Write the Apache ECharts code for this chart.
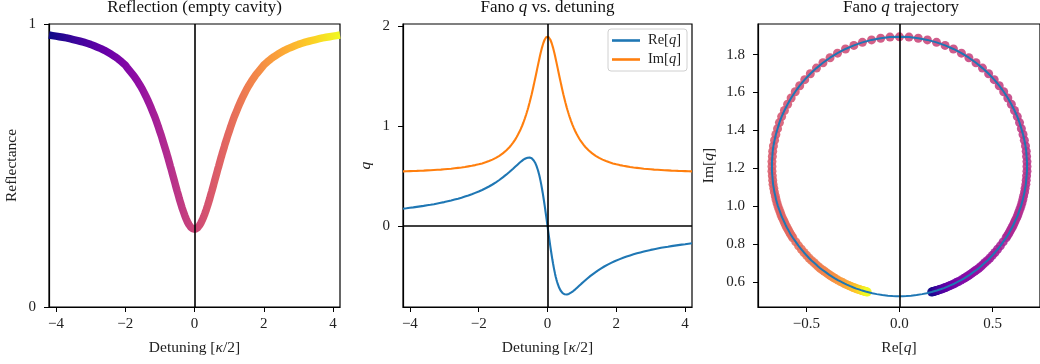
<!DOCTYPE html>
<html>
<head>
<meta charset="utf-8">
<script src="https://cdn.jsdelivr.net/npm/echarts@6/dist/echarts.min.js"></script>
<style>
  html, body { margin: 0; padding: 0; background: #fff; }
  #chart { width: 1040px; height: 364px; }
</style>
</head>
<body>
<div id="chart"></div>
<script>
// Detuning grid in units of kappa/2 (finer near resonance)
const detuning = [
  -4.2,-4.1,-4.0,-3.9,-3.8,-3.7,-3.6,-3.5,-3.4,-3.3,-3.2,-3.1,-3.0,-2.9,-2.8,-2.7,-2.6,-2.5,-2.4,-2.3,-2.2,-2.1,
  -2.0,-1.95,-1.9,-1.85,-1.8,-1.75,-1.7,-1.65,-1.6,-1.55,-1.5,-1.45,-1.4,-1.35,-1.3,-1.25,-1.2,-1.15,-1.1,-1.05,
  -1.0,-0.98,-0.96,-0.94,-0.92,-0.9,-0.88,-0.86,-0.84,-0.82,-0.8,-0.78,-0.76,-0.74,-0.72,-0.7,-0.68,-0.66,-0.64,-0.62,
  -0.6,-0.58,-0.56,-0.54,-0.52,-0.5,-0.48,-0.46,-0.44,-0.42,-0.4,-0.38,-0.36,-0.34,-0.32,-0.3,-0.28,-0.26,-0.24,-0.22,
  -0.2,-0.18,-0.16,-0.14,-0.12,-0.1,-0.08,-0.06,-0.04,-0.02,
  0,
  0.02,0.04,0.06,0.08,0.1,0.12,0.14,0.16,0.18,0.2,0.22,0.24,0.26,0.28,0.3,0.32,0.34,0.36,0.38,0.4,
  0.42,0.44,0.46,0.48,0.5,0.52,0.54,0.56,0.58,0.6,0.62,0.64,0.66,0.68,0.7,0.72,0.74,0.76,0.78,0.8,
  0.82,0.84,0.86,0.88,0.9,0.92,0.94,0.96,0.98,1.0,
  1.05,1.1,1.15,1.2,1.25,1.3,1.35,1.4,1.45,1.5,1.55,1.6,1.65,1.7,1.75,1.8,1.85,1.9,1.95,2.0,
  2.1,2.2,2.3,2.4,2.5,2.6,2.7,2.8,2.9,3.0,3.1,3.2,3.3,3.4,3.5,3.6,3.7,3.8,3.9,4.0,4.1,4.2
];

// Empty-cavity reflectance
const reflectance = [
  0.961,0.959,0.957,0.955,0.953,0.951,0.948,0.945,0.942,0.939,0.936,0.932,0.928,0.923,0.918,0.913,0.907,0.900,0.893,0.885,0.876,0.866,
  0.855,0.847,0.840,0.832,0.825,0.817,0.808,0.799,0.789,0.779,0.768,0.756,0.744,0.731,0.717,0.703,0.688,0.673,0.656,0.639,
  0.620,0.613,0.606,0.598,0.590,0.582,0.575,0.566,0.558,0.550,0.542,0.533,0.525,0.516,0.507,0.498,0.490,0.481,0.472,0.463,
  0.454,0.445,0.436,0.427,0.418,0.409,0.401,0.392,0.383,0.375,0.367,0.359,0.351,0.344,0.337,0.330,0.323,0.317,0.311,0.306,
  0.300,0.296,0.291,0.288,0.284,0.281,0.279,0.277,0.276,0.275,
  0.275,
  0.275,0.276,0.277,0.279,0.281,0.284,0.288,0.291,0.296,0.300,0.306,0.311,0.317,0.323,0.330,0.337,0.344,0.351,0.359,0.367,
  0.375,0.383,0.392,0.401,0.409,0.418,0.427,0.436,0.445,0.454,0.463,0.472,0.481,0.490,0.498,0.507,0.516,0.525,0.533,0.542,
  0.550,0.558,0.566,0.575,0.582,0.590,0.598,0.606,0.613,0.620,
  0.639,0.656,0.673,0.688,0.703,0.717,0.731,0.744,0.756,0.768,0.779,0.789,0.799,0.808,0.817,0.825,0.832,0.840,0.847,0.855,
  0.866,0.876,0.885,0.893,0.900,0.907,0.913,0.918,0.923,0.928,0.932,0.936,0.939,0.942,0.945,0.948,0.951,0.953,0.955,0.957,0.959,0.961
];

// Real part of the Fano parameter q
const qRe = [
  0.173,0.177,0.182,0.186,0.191,0.196,0.201,0.207,0.212,0.218,0.225,0.232,0.239,0.247,0.255,0.264,0.273,0.283,0.294,0.305,0.317,0.331,
  0.345,0.353,0.360,0.369,0.377,0.386,0.395,0.405,0.415,0.426,0.437,0.448,0.460,0.473,0.486,0.499,0.513,0.527,0.542,0.557,
  0.573,0.579,0.586,0.592,0.598,0.605,0.611,0.617,0.623,0.630,0.636,0.641,0.647,0.653,0.658,0.663,0.667,0.672,0.675,0.679,
  0.681,0.683,0.685,0.685,0.685,0.683,0.681,0.677,0.671,0.664,0.655,0.645,0.633,0.618,0.601,0.582,0.560,0.536,0.509,0.479,
  0.446,0.411,0.373,0.333,0.290,0.245,0.199,0.150,0.101,0.051,
  0,
  -0.051,-0.101,-0.150,-0.199,-0.245,-0.290,-0.333,-0.373,-0.411,-0.446,-0.479,-0.509,-0.536,-0.560,-0.582,-0.601,-0.618,-0.633,-0.645,-0.655,
  -0.664,-0.671,-0.677,-0.681,-0.683,-0.685,-0.685,-0.685,-0.683,-0.681,-0.679,-0.675,-0.672,-0.667,-0.663,-0.658,-0.653,-0.647,-0.641,-0.636,
  -0.630,-0.623,-0.617,-0.611,-0.605,-0.598,-0.592,-0.586,-0.579,-0.573,
  -0.557,-0.542,-0.527,-0.513,-0.499,-0.486,-0.473,-0.460,-0.448,-0.437,-0.426,-0.415,-0.405,-0.395,-0.386,-0.377,-0.369,-0.360,-0.353,-0.345,
  -0.331,-0.317,-0.305,-0.294,-0.283,-0.273,-0.264,-0.255,-0.247,-0.239,-0.232,-0.225,-0.218,-0.212,-0.207,-0.201,-0.196,-0.191,-0.186,-0.182,-0.177,-0.173
];

// Imaginary part of the Fano parameter q
const qIm = [
  0.546,0.547,0.549,0.550,0.551,0.553,0.554,0.556,0.558,0.560,0.562,0.564,0.567,0.570,0.573,0.577,0.581,0.585,0.590,0.596,0.602,0.609,
  0.617,0.622,0.626,0.632,0.637,0.643,0.650,0.657,0.664,0.672,0.681,0.691,0.702,0.713,0.726,0.740,0.755,0.772,0.790,0.811,
  0.833,0.843,0.853,0.864,0.875,0.887,0.899,0.912,0.925,0.939,0.953,0.968,0.984,1.000,1.017,1.035,1.054,1.074,1.094,1.115,
  1.137,1.160,1.184,1.209,1.235,1.262,1.290,1.318,1.348,1.378,1.409,1.441,1.473,1.505,1.538,1.571,1.604,1.636,1.668,1.699,
  1.729,1.757,1.784,1.808,1.830,1.849,1.865,1.878,1.887,1.893,
  1.894,
  1.893,1.887,1.878,1.865,1.849,1.830,1.808,1.784,1.757,1.729,1.699,1.668,1.636,1.604,1.571,1.538,1.505,1.473,1.441,1.409,
  1.378,1.348,1.318,1.290,1.262,1.235,1.209,1.184,1.160,1.137,1.115,1.094,1.074,1.054,1.035,1.017,1.000,0.984,0.968,0.953,
  0.939,0.925,0.912,0.899,0.887,0.875,0.864,0.853,0.843,0.833,
  0.811,0.790,0.772,0.755,0.740,0.726,0.713,0.702,0.691,0.681,0.672,0.664,0.657,0.650,0.643,0.637,0.632,0.626,0.622,0.617,
  0.609,0.602,0.596,0.590,0.585,0.581,0.577,0.573,0.570,0.567,0.564,0.562,0.560,0.558,0.556,0.554,0.553,0.551,0.550,0.549,0.547,0.546
];

// Far-detuned part of the trajectory (closes the circle below the sampled window)
const tailDetuning = [-1000, -100, -40, -20, -12, -8, -6, -5, 5, 6, 8, 12, 20, 40, 100, 1000];
const tailRe = [0.001, 0.007, 0.018, 0.037, 0.062, 0.092, 0.122, 0.146, -0.146, -0.122, -0.092, -0.062, -0.037, -0.018, -0.007, -0.001];
const tailIm = [0.524, 0.524, 0.524, 0.525, 0.527, 0.530, 0.535, 0.540, 0.540, 0.535, 0.530, 0.527, 0.525, 0.524, 0.524, 0.524];

// Tick positions
const detTicks = [-4, -2, 0, 2, 4];
const reflTicks = [0, 1];
const qTicks = [0, 1, 2];
const reTicks = [-0.5, 0, 0.5];
const imTicks = [0.6, 0.8, 1.0, 1.2, 1.4, 1.6, 1.8];

const plasma = ['#0d0887', '#41049d', '#6a00a8', '#8f0da4', '#b12a90', '#cc4778',
                '#e16462', '#f2844b', '#fca636', '#fcce25', '#f0f921'];

const FONT = 'Liberation Serif';
const TXT = '#222';
const TICK_SIZE = 15;
const NAME_SIZE = 15.5;
const italic = size => ({ i: { fontStyle: 'italic', fontFamily: FONT, fontSize: size, color: TXT } });

const minus = s => s.replace('-', '\u2212');
const fmtInt = v => minus(String(v));
const fmtOne = v => minus(v.toFixed(1));

function axis(gridIndex, min, max, ticks, fmt, name, nameGap, labelMargin) {
  return {
    type: 'value', gridIndex, min, max,
    axisLine: { show: true, onZero: false, lineStyle: { color: '#000', width: 1.2 } },
    axisTick: { show: true, length: 5, customValues: ticks, lineStyle: { color: '#000', width: 1 } },
    axisLabel: { customValues: ticks, formatter: fmt, fontFamily: FONT, fontSize: TICK_SIZE, color: TXT, margin: labelMargin },
    splitLine: { show: false },
    name, nameLocation: 'middle', nameGap,
    nameTextStyle: { fontFamily: FONT, fontSize: NAME_SIZE, color: TXT, rich: italic(NAME_SIZE) }
  };
}

const zeroLine = (data) => ({
  silent: true, symbol: ['none', 'none'], animation: false,
  label: { show: false },
  lineStyle: { color: '#000', width: 1.6, type: 'solid' },
  emphasis: { disabled: true },
  data
});

const reflData = detuning.map((x, i) => [x, reflectance[i]]);
const reData = detuning.map((x, i) => [x, qRe[i]]);
const imData = detuning.map((x, i) => [x, qIm[i]]);
const trajPoints = detuning.map((x, i) => [qRe[i], qIm[i], x]);
const tailPts = tailDetuning.map((x, i) => [tailRe[i], tailIm[i], x]);
const trajLine = tailPts.filter(p => p[2] < 0).concat(trajPoints, tailPts.filter(p => p[2] > 0))
                        .map(p => [p[0], p[1]]);

const grids = [
  { left: 49, top: 24, width: 291, height: 283 },
  { left: 403, top: 24, width: 289, height: 283 },
  { left: 758, top: 24, width: 286, height: 283 }
].map(g => Object.assign(g, { show: true, borderColor: '#000', borderWidth: 1.2, backgroundColor: 'transparent' }));

const titleText = (x, text) => ({
  type: 'text', x, y: 8, silent: true,
  style: {
    text, align: 'center', verticalAlign: 'middle',
    fontFamily: FONT, fontSize: 17, fill: '#111',
    rich: { i: { fontStyle: 'italic', fontFamily: FONT, fontSize: 17, fill: '#111' } }
  }
});

const option = {
  animation: false,
  backgroundColor: '#fff',
  grid: grids,
  graphic: [
    titleText(194.5, 'Reflection (empty cavity)'),
    titleText(547.5, 'Fano {i|q} vs. detuning'),
    titleText(901, 'Fano {i|q} trajectory')
  ],
  xAxis: [
    axis(0, -4.2, 4.2, detTicks, fmtInt, 'Detuning [{i|\u03ba}/2]', 33, 10),
    axis(1, -4.2, 4.2, detTicks, fmtInt, 'Detuning [{i|\u03ba}/2]', 33, 10),
    axis(2, -0.76, 0.755, reTicks, fmtOne, 'Re[{i|q}]', 33, 10)
  ],
  yAxis: [
    axis(0, 0, 1, reflTicks, fmtInt, 'Reflectance', 29, 13),
    axis(1, -0.81, 2.02, qTicks, fmtInt, '{i|q}', 29, 13),
    axis(2, 0.467, 1.962, imTicks, fmtOne, 'Im[{i|q}]', 41, 13)
  ],
  legend: {
    data: ['Re[q]', 'Im[q]'],
    orient: 'vertical', left: 608, top: 29,
    icon: 'rect', itemWidth: 28, itemHeight: 2.6, itemGap: 4,
    padding: [4, 6, 4, 4],
    borderColor: '#d0d0d0', borderWidth: 1, borderRadius: 3,
    backgroundColor: 'rgba(255,255,255,0.85)',
    formatter: n => n.replace('[q]', '[{i|q}]'),
    textStyle: { fontFamily: FONT, fontSize: 14.5, color: TXT, padding: [0, 0, 0, 3], rich: italic(14.5) }
  },
  visualMap: [
    { type: 'continuous', show: false, seriesIndex: 0, dimension: 0, min: -4.2, max: 4.2, inRange: { color: plasma } },
    { type: 'continuous', show: false, seriesIndex: 3, dimension: 2, min: -4.2, max: 4.2, inRange: { color: plasma } }
  ],
  series: [
    {
      type: 'line', xAxisIndex: 0, yAxisIndex: 0, data: reflData,
      showSymbol: false, smooth: false, z: 2,
      lineStyle: { width: 7.5, cap: 'butt' },
      markLine: zeroLine([{ xAxis: 0 }])
    },
    {
      name: 'Re[q]', type: 'line', xAxisIndex: 1, yAxisIndex: 1, data: reData,
      showSymbol: false, color: '#1f77b4', lineStyle: { width: 2.1, color: '#1f77b4' }, z: 3,
      markLine: zeroLine([{ xAxis: 0 }, { yAxis: 0 }])
    },
    {
      name: 'Im[q]', type: 'line', xAxisIndex: 1, yAxisIndex: 1, data: imData,
      showSymbol: false, color: '#ff7f0e', lineStyle: { width: 2.1, color: '#ff7f0e' }, z: 3
    },
    {
      type: 'scatter', xAxisIndex: 2, yAxisIndex: 2, data: trajPoints,
      symbolSize: 9, itemStyle: { opacity: 0.88 }, z: 2
    },
    {
      type: 'line', xAxisIndex: 2, yAxisIndex: 2, data: trajLine,
      showSymbol: false, color: '#1f77b4', lineStyle: { width: 2, color: '#1f77b4' }, z: 4,
      markLine: zeroLine([{ xAxis: 0 }])
    }
  ]
};

const chart = echarts.init(document.getElementById('chart'), null, { renderer: 'canvas' });
chart.setOption(option);
</script>
</body>
</html>
